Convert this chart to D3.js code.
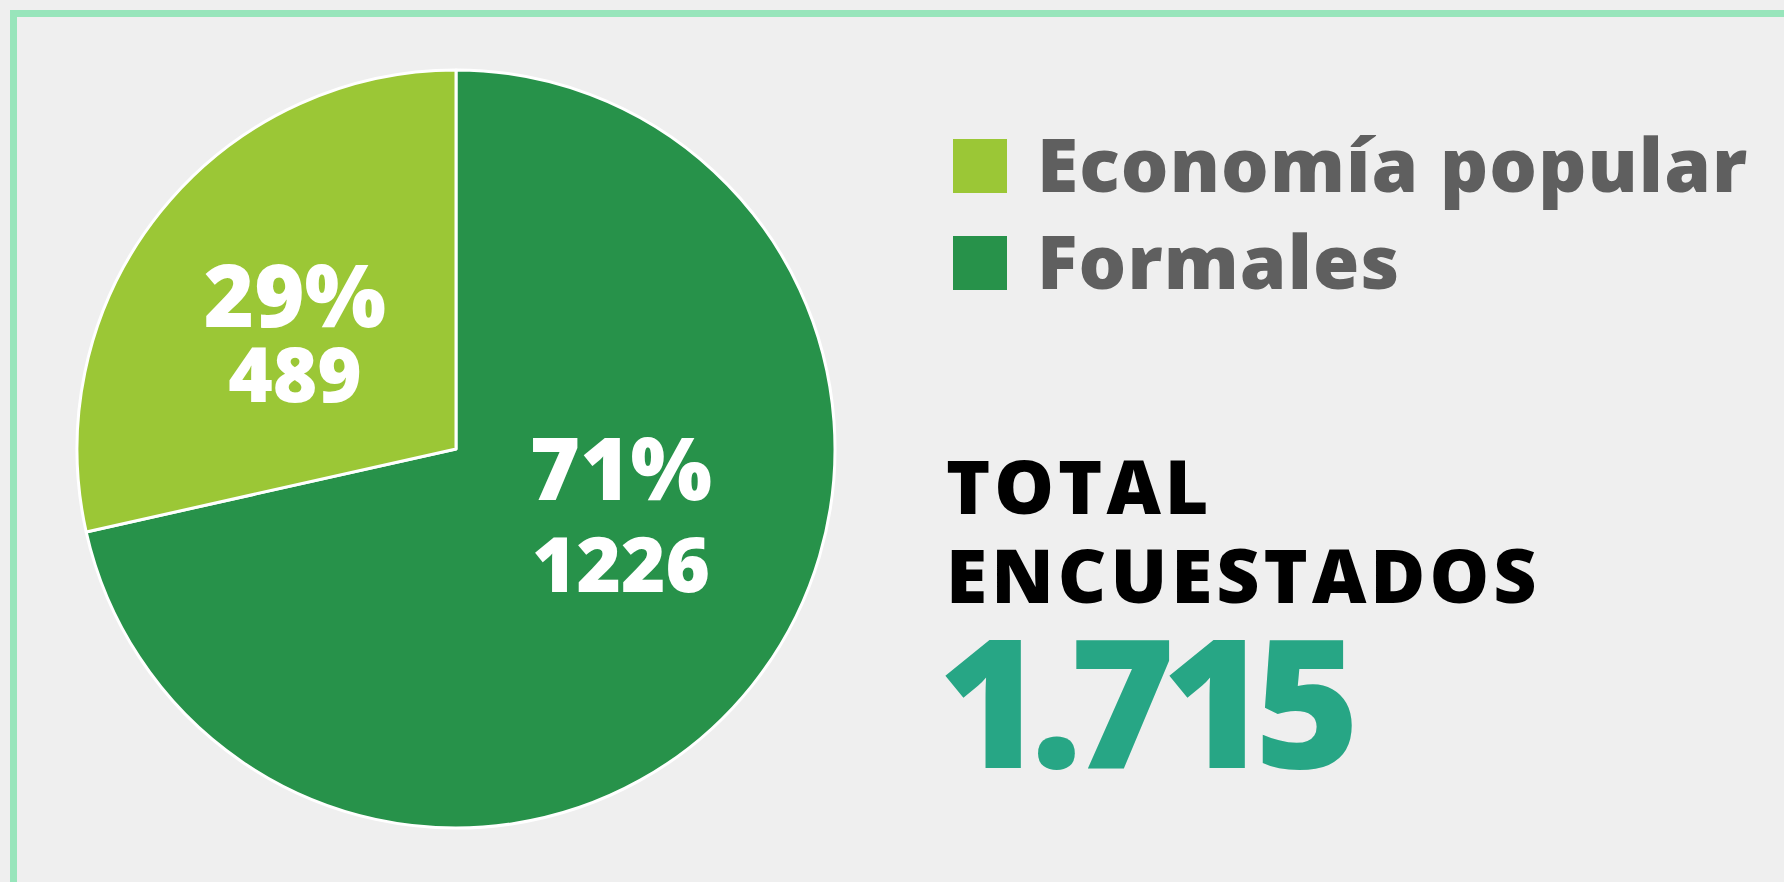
<!DOCTYPE html>
<html lang="es">
<head>
<meta charset="utf-8">
<title>Total encuestados</title>
<script src="https://d3js.org/d3.v7.min.js"></script>
<style>
  body { margin: 0; background: #efefef; }
  svg { display: block; }
  text { font-family: "Open Sans", sans-serif; }
</style>
</head>
<body>
<svg width="1784" height="882"></svg>
<script>

// data
var categories = ["Formales", "Economía popular"];
var counts = [1226, 489];
var percents = ["71%", "29%"];
var colors = ["#27924a", "#9bc736"];
var legendOrder = ["Economía popular", "Formales"];
var totalTitle = ["TOTAL", "ENCUESTADOS"];
var totalValue = "1.715";

var svg = d3.select("svg"),
    width = +svg.attr("width"),
    height = +svg.attr("height");

// background + frame
svg.append("rect")
    .attr("width", width)
    .attr("height", height)
    .attr("fill", "#efefef");

svg.append("rect")
    .attr("x", 13.5)
    .attr("y", 13.5)
    .attr("width", width + 40)
    .attr("height", height + 40)
    .attr("fill", "none")
    .attr("stroke", "#98e5bb")
    .attr("stroke-width", 7);

var color = d3.scaleOrdinal().domain(categories).range(colors);

var dataset = categories.map(function(c, i) {
  return {name: c, count: counts[i], pct: percents[i]};
});

var radius = 379;
var g = svg.append("g")
    .attr("transform", "translate(456,449)");

var pie = d3.pie()
    .sort(null)
    .value(function(d) { return d.count; });

var arc = d3.arc()
    .innerRadius(0)
    .outerRadius(radius);

var arcs = pie(dataset);

g.selectAll(".slice")
  .data(arcs)
  .enter().append("path")
    .attr("class", "slice")
    .attr("d", arc)
    .attr("fill", function(d) { return color(d.data.name); })
    .attr("stroke", "#fff")
    .attr("stroke-width", 3)
    .attr("stroke-linejoin", "round");

// label placement, tweaked per slice to sit like the original
var labelArc = d3.arc().innerRadius(196).outerRadius(196);
var nudge = {
  "Formales": {dx: 12, dy: -71, gap: 92},
  "Economía popular": {dx: -8, dy: 0, gap: 75}
};

var labels = g.selectAll(".label")
  .data(arcs)
  .enter().append("g")
    .attr("class", "label")
    .attr("transform", function(d) {
      var c = labelArc.centroid(d), n = nudge[d.data.name];
      return "translate(" + (c[0] + n.dx) + "," + (c[1] + n.dy) + ")";
    });

labels.append("text")
    .attr("text-anchor", "middle")
    .attr("fill", "#fff")
    .attr("font-weight", 800)
    .style("font-size", "86px")
    .text(function(d) { return d.data.pct; });

labels.append("text")
    .attr("text-anchor", "middle")
    .attr("y", function(d) { return nudge[d.data.name].gap; })
    .attr("fill", "#fff")
    .attr("font-weight", 800)
    .style("font-size", "76px")
    .text(function(d) { return d.data.count; });

// legend
var legend = svg.append("g")
    .attr("transform", "translate(953,139)");

var row = legend.selectAll(".legend-row")
  .data(legendOrder)
  .enter().append("g")
    .attr("class", "legend-row")
    .attr("transform", function(d, i) { return "translate(0," + (i * 97) + ")"; });

row.append("rect")
    .attr("width", 54)
    .attr("height", 54)
    .attr("fill", function(d) { return color(d); });

row.append("text")
    .attr("x", 84)
    .attr("y", 53)
    .attr("fill", "#5f5f5f")
    .attr("font-weight", 800)
    .style("font-size", "75px")
    .style("letter-spacing", "1.1px")
    .text(function(d) { return d; });

// total block
svg.selectAll(".total-title")
  .data(totalTitle)
  .enter().append("text")
    .attr("class", "total-title")
    .attr("x", 946)
    .attr("y", function(d, i) { return 514 + i * 89; })
    .attr("fill", "#000")
    .attr("font-weight", 800)
    .style("font-size", "75px")
    .style("letter-spacing", "4px")
    .text(function(d) { return d; });

svg.append("text")
    .attr("x", 938)
    .attr("y", 768)
    .attr("fill", "#27a685")
    .attr("font-weight", 800)
    .style("font-size", "180px")
    .style("letter-spacing", "-13px")
    .text(totalValue);

</script>
</body>
</html>
